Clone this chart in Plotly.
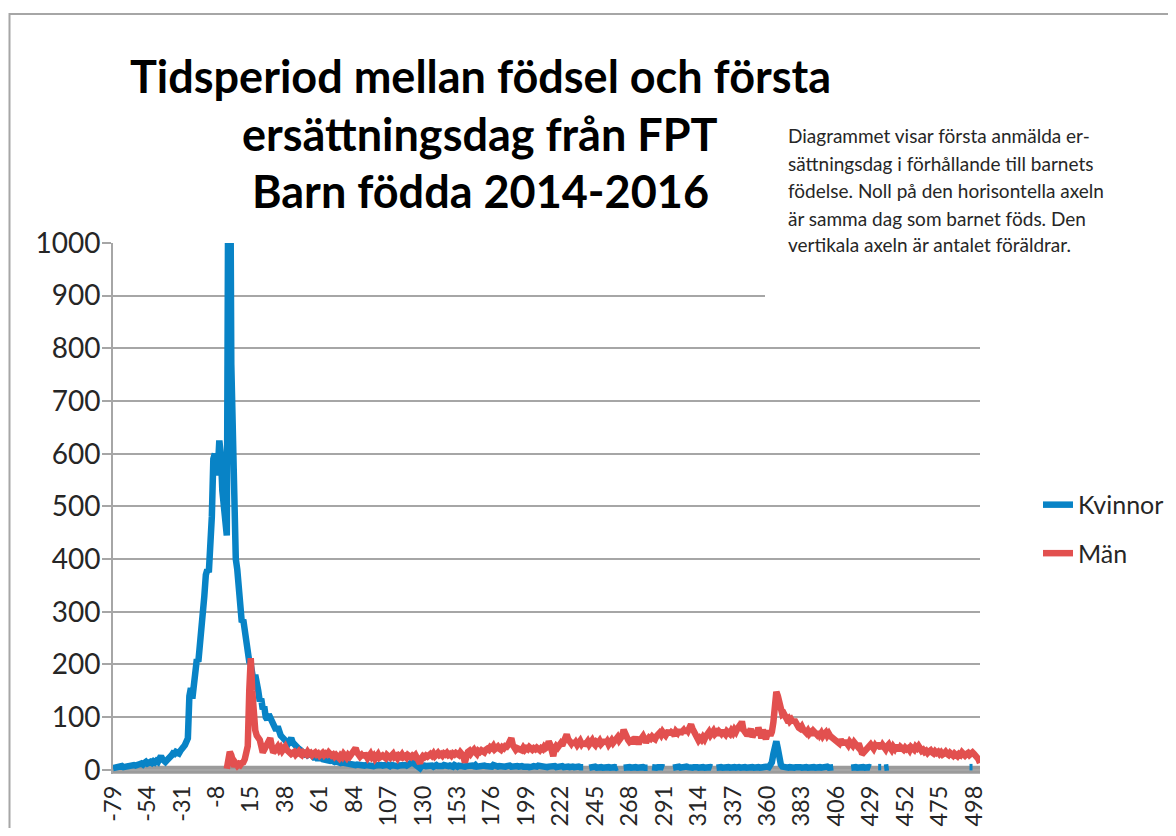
import plotly.graph_objects as go

# ---- categories (days relative to birth) ----
days = [-79] + list(range(-76, 503))
tick_labels = [-79, -54, -31, -8, 15, 38, 61, 84, 107, 130, 153, 176, 199, 222,
               245, 268, 291, 314, 337, 360, 383, 406, 429, 452, 475, 498]

# ---- Kvinnor (women) ----
kvinnor_a = [
    3, 4, 5, 4, 6, 6, 7, 5, 6, 7,
    8, 6, 7, 8, 9, 8, 10, 9, 11, 12,
    10, 13, 15, 12, 14, 15, 13, 16, 14, 17,
    15, 19, 26, 20, 16, 15, 18, 20, 22, 27,
    31, 30, 34, 32, 31, 36, 44, 43, 47, 52,
    60, 140, 155, 135, 165, 200, 210, 205, 230, 270,
    295, 330, 370, 380, 375, 420, 480, 590, 600, 560,
    570, 625, 600, 530, 490, 460, 445, 1150, 1350, 770,
    600, 470, 400, 380, 340, 290, 280, 285, 265, 235,
    215, 205, 200, 175, 165, 180, 170, 150, 130, 135,
    115, 120, 100, 95, 105, 100, 90, 85, 80, 75,
    82, 70, 65, 62, 58, 55, 52, 50, 55, 60,
    52, 48, 45, 42, 40, 38, 35, 33, 30, 32,
    28, 30, 26, 27, 24, 25, 22, 23, 21, 22,
    20, 19, 21, 18, 19, 17, 18, 16, 15, 16,
    14, 15, 13, 14, 12, 13, 12, 11, 12, 10,
    11, 10, 9, 10, 9, 8, 10, 9, 8, 9,
    8, 7, 9, 8, 7, 8, 9, 7, 8, 9,
    8, 7, 9, 10, 8, 7, 9, 8, 10, 9,
    7, 8, 9, 8, 10, 9, 8, 11, 12, 13,
    14, 12, 10, 8, 6, 3, 7, 9, 8, 7,
    8, 9, 7, 8, 6, 8, 9, 7, 6, 8,
    7, 9, 8, 6, 7, 8, 7, 6, 9, 7,
    6, 8, 7, 9, 8, 6, 7, 8, 6, 7,
    8, 7, 9, 6, 7, 8, 6, 7, 8, 7,
    6, 8, 7, 6, 9, 7, 8, 6, 7, 6,
    8, 7, 6, 7, 9, 8, 6, 7, 8, 6,
    7, 6, 8, 7, 6, 7, 8, 6, 5, 7,
    6, 7, 5, 6, 8, 7, 6, 5, 7, 6,
    5, 6, 7, 5, 6, 7, 5, 6, 5, 6,
    7, 5, 6, 5, 6, 5, 7, 6, 5, 6,
    5, 6, 5, 4, 5,
]
kvinnor_b = [4, 5, 4, 5, 6, 4, 5, 4, 5, 4, 5, 4, 6, 5, 4, 5, 4, 5, 4, 5]
kvinnor_c = [4, 5, 4, 6, 5, 4, 5, 4, 5, 4, 5, 6, 4, 5, 4, 5, 4]
kvinnor_d = [5, 4, 5, 4, 5, 6, 4, 5, 4]
kvinnor_e = [4, 5, 4, 5, 6, 4, 5, 4, 5, 6, 5, 4, 5, 4, 5, 6, 5, 4, 5, 4,
             5, 4, 5, 6, 4, 5, 4]
kvinnor_f = [4, 5, 4, 5, 4, 5, 6, 4, 5, 4, 5, 4, 5, 4, 6, 5, 4, 5, 4, 5,
             4, 5, 6, 4, 5, 4, 5, 4, 5, 4, 5, 6, 4, 5, 6,
             5, 8, 14, 30, 48, 54, 40, 22, 10, 6, 5,
             4, 5, 4, 5, 4, 5, 4, 5, 6, 4, 5, 4, 5, 4, 5, 4, 5, 6, 4, 5,
             4, 5, 4, 5, 4, 5, 4, 5, 6, 4, 5, 4, 5]
kvinnor_g = [4, 5, 4, 5, 4, 5, 6, 4, 5, 4, 5, 4, 5, 4]
kvinnor_h = [5, 4, 5]
kvinnor_i = [4, 5, 4, 5]
kvinnor_j = [5, 6, 5]

kvinnor = (kvinnor_a + [None] * 3 + kvinnor_b + [None] * 3 + kvinnor_c + [None] * 2
           + kvinnor_d + [None] * 5 + kvinnor_e + [None] * 2 + kvinnor_f + [None] * 11
           + kvinnor_g + [None] * 4 + kvinnor_h + [None] + kvinnor_i + [None] * 53
           + kvinnor_j + [None] * 5)

# ---- Män (men) ----
man_values = [
    2, 18, 34, 28,
    10, 6, 12, 8, 11, 9, 13, 14, 20, 38,
    45, 150, 212, 150, 88, 75, 65, 60, 57, 45,
    33, 38, 45, 50, 56, 60, 45, 33, 36, 40,
    44, 38, 42, 36, 40, 44, 38, 35, 33, 30,
    32, 34, 29, 31, 35, 30, 28, 33, 31, 29,
    34, 30, 32, 28, 31, 33, 29, 31, 27, 30,
    32, 28, 31, 29, 33, 30, 27, 29, 25, 28,
    26, 22, 27, 24, 30, 26, 23, 28, 25, 29,
    32, 36, 41, 33, 29, 25, 28, 24, 31, 27,
    22, 26, 30, 24, 27, 21, 26, 29, 23, 25,
    27, 24, 22, 28, 25, 23, 27, 30, 24, 26,
    22, 27, 25, 29, 24, 26, 23, 28, 26, 24,
    27, 25, 28, 24, 20, 12, 22, 26, 24, 27,
    25, 28, 30, 27, 31, 26, 29, 32, 28, 30,
    27, 31, 29, 32, 28, 30, 27, 31, 29, 32,
    30, 28, 33, 31, 26, 14, 28, 34, 36, 31,
    35, 38, 33, 30, 36, 34, 37, 35, 33, 38,
    40, 38, 43, 41, 45, 39, 42, 44, 40, 38,
    43, 41, 45, 44, 48, 52, 60, 47, 40, 38,
    41, 39, 40, 37, 42, 38, 41, 39, 43, 40,
    38, 41, 39, 42, 40, 37, 41, 39, 44, 41,
    43, 54, 48, 38, 26, 40, 45, 42, 48, 50,
    46, 52, 55, 67, 58, 53, 50, 55, 48, 52,
    47, 51, 55, 49, 53, 46, 50, 54, 48, 52,
    56, 50, 47, 53, 51, 55, 49, 52, 57, 50,
    54, 48, 53, 56, 51, 55, 58, 62, 56, 60,
    64, 76, 66, 60, 57, 53, 55, 50, 58, 62,
    55, 49, 56, 60, 64, 58, 52, 57, 61, 59,
    63, 60, 58, 64, 67, 70, 66, 72, 68, 65,
    70, 74, 67, 71, 69, 65, 73, 70, 76, 68,
    72, 75, 70, 78, 74, 80, 86, 78, 72, 66,
    58, 56, 60, 57, 62, 58, 64, 68, 72, 66,
    70, 74, 68, 71, 66, 72, 69, 75, 70, 67,
    73, 71, 68, 74, 70, 76, 72, 78, 82, 80,
    92, 76, 72, 75, 64, 70, 78, 62, 68, 74,
    66, 80, 72, 60, 76, 70, 58, 68, 74, 65,
    72, 90, 125, 148, 140, 122, 110, 105, 107, 100,
    96, 98, 92, 95, 90, 95, 88, 82, 80, 78,
    82, 76, 72, 70, 74, 68, 71, 66, 73, 69,
    67, 72, 66, 70, 64, 68, 71, 65, 69, 64,
    62, 60, 58, 56, 54, 50, 57, 52, 48, 55,
    51, 47, 53, 50, 46, 52, 48, 45, 50, 38,
    33, 32, 36, 40, 42, 45, 48, 44, 40, 46,
    42, 50, 45, 41, 47, 43, 39, 45, 48, 42,
    38, 44, 40, 46, 41, 37, 43, 40, 38, 42,
    39, 41, 37, 43, 40, 38, 44, 41, 45, 39,
    36, 38, 34, 36, 32, 35, 37, 33, 31, 35,
    32, 34, 30, 33, 29, 31, 34, 30, 28, 32,
    30, 27, 31, 29, 26, 30, 28, 33, 29, 27,
    30, 32, 28, 31, 33, 30, 27, 24, 20, 13,
]
man = [None] * 76 + man_values

# ---- text ----
title_lines = ["Tidsperiod mellan födsel och första",
               "ersättningsdag från FPT",
               "Barn födda 2014-2016"]
note_lines = ["Diagrammet visar första anmälda er-",
              "sättningsdag i förhållande till barnets",
              "födelse. Noll på den horisontella axeln",
              "är samma dag som barnet föds. Den",
              "vertikala axeln är antalet föräldrar."]

# page body has an 8px margin -> figure is 1160x820 placed at (8, 8)
OFF = 8
W, H = 1160, 820
# plot area in page pixels
PL, PR, PT, PB = 113, 980, 243, 774.2
L, R, T, B = PL - OFF, PR - OFF, PT - OFF, PB - OFF
FONT = "Lato"


def px(x_page):
    return (x_page - PL) / (PR - PL)


def py(y_page):
    return (PB - y_page) / (PB - PT)


fig = go.Figure()
fig.add_trace(go.Scatter(x=days, y=kvinnor, mode="lines", name="Kvinnor",
                         line=dict(color="#0883C6", width=6.5),
                         legendgroup="k", connectgaps=False))
fig.add_trace(go.Scatter(x=days, y=man, mode="lines", name="Män",
                         line=dict(color="#E2504F", width=6.5),
                         legendgroup="m", connectgaps=False))

annotations = []
for line, yc in zip(title_lines, [76, 134, 191]):
    annotations.append(dict(text=f"<b>{line}</b>", x=px(480), y=py(yc),
                            xref="paper", yref="paper", showarrow=False,
                            xanchor="center", yanchor="middle",
                            font=dict(family=FONT, size=45, color="#000000")))
for line, yc in zip(note_lines, [135, 163, 190, 218, 245]):
    annotations.append(dict(text=line, x=px(786), y=py(yc),
                            xref="paper", yref="paper", showarrow=False,
                            xanchor="left", yanchor="middle",
                            font=dict(family=FONT, size=19, color="#262626")))

shapes = [
    # zero baseline band
    dict(type="line", xref="paper", yref="y", x0=0, x1=1, y0=0, y1=0,
         line=dict(color="#9B9B9B", width=8), layer="below"),
    # white box behind note
    dict(type="rect", xref="paper", yref="paper", x0=px(765), x1=px(1190),
         y0=py(305), y1=py(100), fillcolor="white", line=dict(width=0),
         layer="above"),
    # outer chart border
    dict(type="rect", xref="paper", yref="paper", x0=px(9.5), x1=px(1200),
         y0=py(860), y1=py(14), fillcolor="rgba(0,0,0,0)",
         line=dict(color="#A6A6A6", width=2), layer="above"),
]

fig.update_layout(
    width=W, height=H,
    margin=dict(l=L, r=W - R, t=T, b=H - B, autoexpand=False),
    paper_bgcolor="white", plot_bgcolor="white",
    showlegend=True,
    legend=dict(x=px(1038), y=py(482), xanchor="left", yanchor="top",
                font=dict(family=FONT, size=25, color="#262626"),
                tracegroupgap=13, bgcolor="rgba(0,0,0,0)"),
    annotations=annotations,
    shapes=shapes,
    xaxis=dict(type="category", range=[0, len(days) - 1], automargin=False,
               tickmode="array", tickvals=tick_labels,
               ticktext=[str(t) for t in tick_labels], tickangle=-90,
               showgrid=False, zeroline=False, showline=False, ticks="",
               ticklabelstandoff=6,
               tickfont=dict(family=FONT, size=23.5, color="#262626")),
    yaxis=dict(range=[-8, 1000], tickmode="linear", tick0=0, dtick=100,
               automargin=False,
               showgrid=True, gridcolor="#A6A6A6", gridwidth=2,
               zeroline=False, showline=True, linecolor="#A6A6A6", linewidth=2,
               ticks="outside", ticklen=9, tickcolor="#A6A6A6", tickwidth=2,
               ticklabelstandoff=-4,
               tickfont=dict(family=FONT, size=28, color="#262626")),
)

fig.write_html("out.html")
